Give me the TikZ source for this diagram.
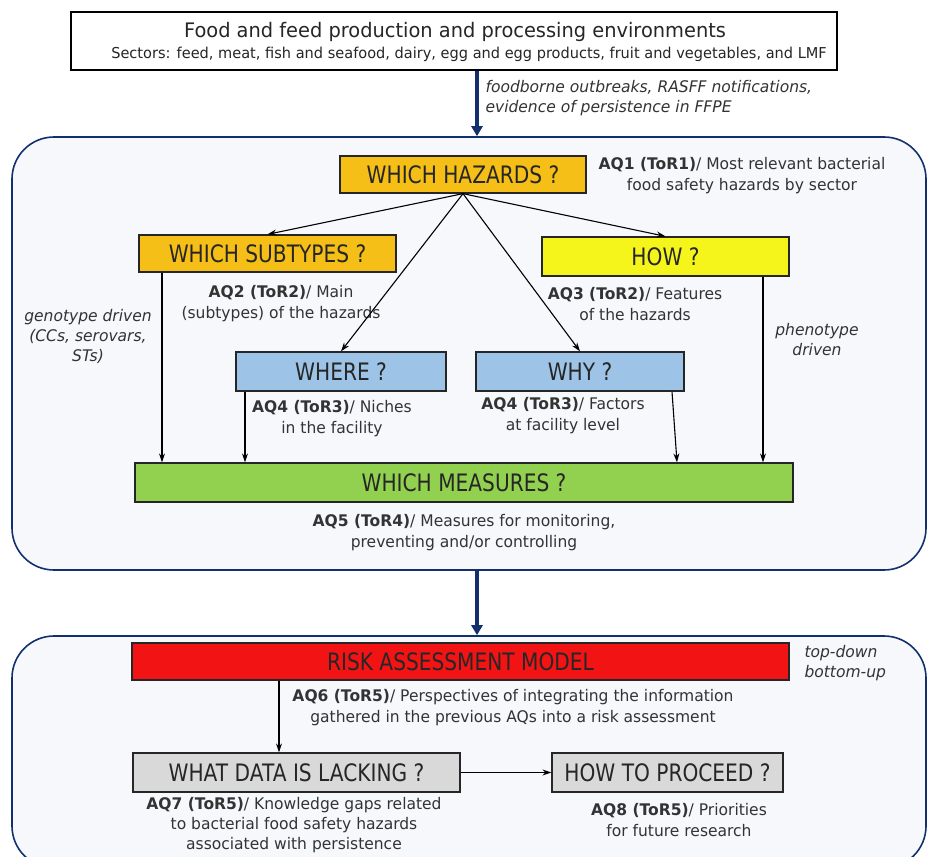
\documentclass[tikz,border=0pt]{standalone}
\usepackage{fontspec}
\setmainfont{DejaVu Sans}[FakeStretch=0.97]
\newfontfamily\qfont{DejaVu Sans}[FakeStretch=0.84]
\usetikzlibrary{arrows.meta}
\definecolor{navy}{HTML}{12306E}
\definecolor{panelbg}{HTML}{F6F8FC}
\definecolor{qorange}{HTML}{F5BF17}
\definecolor{qyellow}{HTML}{F5F51C}
\definecolor{qblue}{HTML}{9DC3E6}
\definecolor{qgreen}{HTML}{92D050}
\definecolor{qred}{HTML}{F21414}
\definecolor{qgrey}{HTML}{D9D9D9}
\begin{document}
\begin{tikzpicture}[x=1pt,y=-1pt,
    qbox/.style={draw=black!85,line width=1.3pt,inner sep=0pt,text=black!85,font=\qfont\fontsize{24}{28}\selectfont},
    panel/.style={draw=navy,line width=1.6pt,fill=panelbg,rounded corners=42pt,inner sep=0pt},
    aq/.style={align=center,text=black!80,font=\fontsize{16}{21}\selectfont},
    drv/.style={align=center,text=black!80,font=\fontsize{16}{20}\selectfont\itshape},
    bigarrow/.style={draw=navy,line width=3.5pt,-{Triangle[length=10pt,width=11pt]}},
    arr/.style={draw=black,line width=1.1pt,-{Stealth[length=9pt,width=6pt]}}]
    \useasboundingbox (0,0) rectangle (928,856);
    \clip (0,0) rectangle (928,856);
    \coordinate (a1) at (477,0);
    % source box
    \node[draw=black,line width=1.3pt,fill=white,minimum width=766pt,minimum height=58pt] (ffpe) at (454,41) {};
    \node[font=\fontsize{20}{24}\selectfont,text=black!85] (ffpet) at (455,32) {Food and feed production and processing environments};
    \node[font=\fontsize{15}{18}\selectfont,text=black!85] (ffpes) at (469,54) {Sectors: feed, meat, fish and seafood, dairy, egg and egg products, fruit and vegetables, and LMF};
    % panels
    \node[panel,minimum width=914pt,minimum height=433pt] (panA) at (469,353.5) {};
    \node[panel,minimum width=914pt,minimum height=232pt] (panB) at (469,752) {};
    \draw[bigarrow] (ffpe.south -| a1) -- (panA.north -| a1);
    \node[drv,anchor=west,align=left] (evid) at (482,98.5) {foodborne outbreaks, RASFF notifications,\\evidence of persistence in FFPE};
    \draw[bigarrow] (panA.south -| a1) -- (panB.north -| a1);
    % questions
    \node[qbox,fill=qorange,minimum width=246pt,minimum height=37pt] (haz) at (463,174.5) {WHICH HAZARDS ?};
    \node[qbox,fill=qorange,minimum width=257pt,minimum height=37pt] (sub) at (267.5,253.5) {WHICH SUBTYPES ?};
    \node[qbox,fill=qyellow,minimum width=247pt,minimum height=39pt] (how) at (665.5,256.5) {HOW ?};
    \node[qbox,fill=qblue,minimum width=210pt,minimum height=39pt] (where) at (341,371.5) {WHERE ?};
    \node[qbox,fill=qblue,minimum width=208pt,minimum height=39pt] (why) at (580,371.5) {WHY ?};
    \node[qbox,fill=qgreen,minimum width=658pt,minimum height=39pt] (meas) at (464,482.5) {WHICH MEASURES ?};
    \node[qbox,fill=qred,minimum width=657pt,minimum height=37pt] (ram) at (460.5,661.5) {RISK ASSESSMENT MODEL};
    \node[qbox,fill=qgrey,minimum width=327pt,minimum height=39pt] (lack) at (296.5,772.5) {WHAT DATA IS LACKING ?};
    \node[qbox,fill=qgrey,minimum width=231pt,minimum height=39pt] (proc) at (667.5,772.5) {HOW TO PROCEED ?};
    % labels
    \node[aq] (aq1) at (742,176) {\textbf{AQ1 (ToR1)}/ Most relevant bacterial\\food safety hazards by sector};
    \node[aq] (aq2) at (281,303.5) {\textbf{AQ2 (ToR2)}/ Main\\(subtypes) of the hazards};
    \node[aq] (aq3) at (635,304) {\textbf{AQ3 (ToR2)}/ Features\\of the hazards};
    \node[drv] (geno) at (88,336.5) {genotype driven\\(CCs, serovars,\\STs)};
    \node[drv] (pheno) at (817,339.5) {phenotype\\driven};
    \node[aq] (aq4a) at (332,419) {\textbf{AQ4 (ToR3)}/ Niches\\in the facility};
    \node[aq] (aq4b) at (563,416) {\textbf{AQ4 (ToR3)}/ Factors\\at facility level};
    \node[aq] (aq5) at (464,533) {\textbf{AQ5 (ToR4)}/ Measures for monitoring,\\preventing and/or controlling};
    \node[drv,anchor=west,align=left] (tdbu) at (801,663.5) {top-down\\bottom-up};
    \node[aq] (aq6) at (513,708) {\textbf{AQ6 (ToR5)}/ Perspectives of integrating the information\\gathered in the previous AQs into a risk assessment};
    \node[aq,font=\fontsize{16}{20}\selectfont] (aq7) at (294,825) {\textbf{AQ7 (ToR5)}/ Knowledge gaps related\\to bacterial food safety hazards\\associated with persistence};
    \node[aq] (aq8) at (679,820.5) {\textbf{AQ8 (ToR5)}/ Priorities\\for future research};
    % connectors
    \draw[arr] (haz.south) -- (sub.north);
    \draw[arr] (haz.south) -- (where.north);
    \draw[arr] (haz.south) -- (why.north);
    \draw[arr] (haz.south) -- (how.north);
    \coordinate (g1) at (162,0);
    \coordinate (g2) at (245,0);
    \coordinate (g3) at (672,0);
    \coordinate (g4) at (677,0);
    \coordinate (g5) at (763,0);
    \coordinate (r1) at (279,0);
    \draw[arr] (sub.south -| g1) -- (meas.north -| g1);
    \draw[arr] (where.south -| g2) -- (meas.north -| g2);
    \draw[arr] (why.south -| g3) -- (meas.north -| g4);
    \draw[arr] (how.south -| g5) -- (meas.north -| g5);
    \draw[arr] (ram.south -| r1) -- (lack.north -| r1);
    \draw[arr] (lack.east) -- (proc.west);
\end{tikzpicture}
\end{document}
